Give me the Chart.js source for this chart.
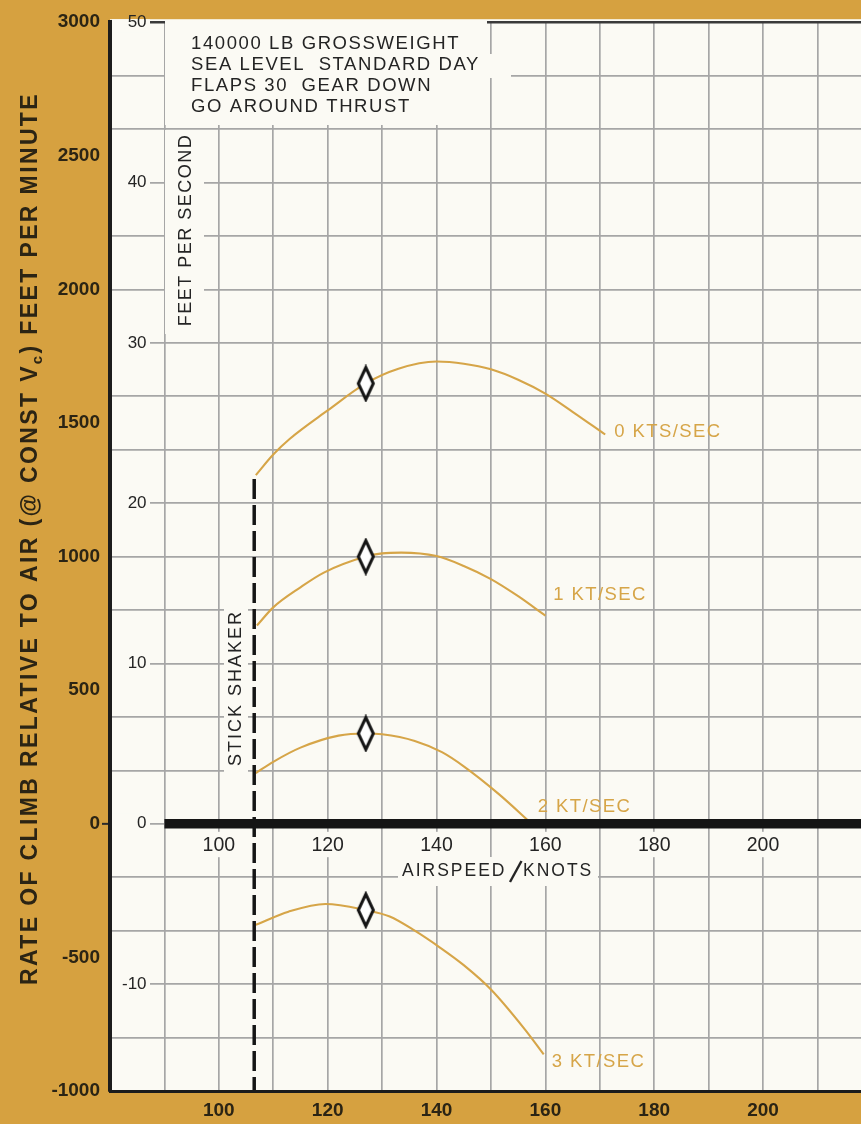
<!DOCTYPE html>
<html>
<head>
<meta charset="utf-8">
<script src="https://cdn.jsdelivr.net/npm/chart.js@4.4.1/dist/chart.umd.min.js"></script>
<style>
html, body { margin: 0; padding: 0; background: #d7a342; }
#wrap { width: 861px; height: 1124px; }
</style>
</head>
<body>
<div id="wrap"><canvas id="climb" width="861" height="1124"></canvas></div>
<script>
// tick labels
const fpmLabels = [3000, 2500, 2000, 1500, 1000, 500, 0, -500, -1000];
const fpsLabels = [50, 40, 30, 20, 10, 0, -10];
const speedLabels = [100, 120, 140, 160, 180, 200];

// rate of climb (ft/min) vs airspeed (kt), one pair per acceleration
const speed0 = [106.8, 110, 113, 120, 127, 133, 140, 145, 150, 155, 160, 165, 171];
const climb0 = [1305, 1382, 1440, 1547, 1648, 1703, 1730, 1722, 1701, 1662, 1610, 1542, 1457];
const speed1 = [107, 110, 115, 119.3, 127, 130, 133.5, 140, 145, 150, 155, 160];
const climb1 = [742, 810, 885, 940, 1000, 1012, 1015, 1002, 965, 916, 852, 779];
const speed2 = [106.8, 110, 115, 122, 127, 130, 136, 141, 145, 151.4, 157.5];
const climb2 = [190, 232, 285, 330, 338, 335, 310, 268, 215, 112, 0];
const speed3 = [106.8, 112.8, 119.6, 127, 131.4, 136, 140.7, 145, 150, 156.3, 159.7];
const climb3 = [-378, -329, -300, -323, -347, -400, -464, -529, -620, -771, -863];
const curveNames = ['0 KTS/SEC', '1 KT/SEC', '2 KT/SEC', '3 KT/SEC'];

// diamonds at 127 kt
const markerSpeed = 127;
const markerClimb = [1648, 1000, 338, -323];

// stick shaker line and zero line
const shakerSpeed = 106.5;
const shakerClimb = [1290, -1000];
const zeroSpeeds = [90, 218];

const noteLines = ['140000 LB GROSSWEIGHT', 'SEA LEVEL  STANDARD DAY', 'FLAPS 30  GEAR DOWN', 'GO AROUND THRUST'];

const gold = '#d6a140';
const paper = '#fbfaf4';
const gridGrey = '#a6a6a6';
const ink = '#242424';
const brown = '#2b2414';
const curveGold = '#d6a548';
const sans = '"Liberation Sans", Arial, sans-serif';

// tall diamond marker
const diamond = document.createElement('canvas');
diamond.width = 20; diamond.height = 38;
(function () {
  const g = diamond.getContext('2d');
  g.beginPath();
  g.moveTo(10, 3); g.lineTo(17.5, 19); g.lineTo(10, 35); g.lineTo(2.5, 19);
  g.closePath();
  g.fillStyle = '#ffffff'; g.fill();
  g.lineWidth = 3; g.strokeStyle = '#141414'; g.stroke();
})();

const pts = (xs, ys) => xs.map((x, i) => ({ x: x, y: ys[i] }));
const curve = (xs, ys) => ({
  data: pts(xs, ys), showLine: true, borderColor: curveGold, borderWidth: 2.1,
  pointRadius: 0, cubicInterpolationMode: 'monotone', fill: false
});

const tickRange = (a, b, step) => { const t = []; for (let v = a; v <= b; v += step) t.push({ value: v }); return t; };

const labelOffsets = [[9, -3], [8, -21], [6, -17], [8, 8]];

const paperPlugin = {
  id: 'paper',
  beforeDraw(chart) {
    const { ctx, chartArea: a } = chart;
    ctx.save();
    ctx.fillStyle = gold;
    ctx.fillRect(0, 0, chart.width, chart.height);
    ctx.fillStyle = paper;
    ctx.fillRect(a.left, a.top - 3, chart.width - a.left, a.bottom - a.top + 3);
    ctx.restore();
  }
};

const textPlugin = {
  id: 'texts',
  beforeDatasetsDraw(chart) {
    const { ctx, chartArea: a, scales } = chart;
    ctx.save();
    ctx.fillStyle = paper;
    ctx.fillRect(165, 21, 322, 104);      // note box
    ctx.fillRect(487, 54, 24, 24);
    ctx.fillRect(165, 130, 39, 204);      // feet per second
    ctx.fillRect(224, 600, 24, 176);      // stick shaker
    ctx.fillRect(398, 857, 200, 29);      // airspeed title
    // clear the grid behind the feet-per-second numbers (drawn later, z 1)
    fpsLabels.forEach(v => {
      const py = scales.yfps.getPixelForValue(v);
      const top = Math.max(py - 10, a.top - 3);
      ctx.fillRect(a.left + 2, top, 38, py + 10 - top);
    });

    ctx.fillStyle = ink;
    ctx.font = '18.5px ' + sans;
    ctx.letterSpacing = '1.6px';
    ctx.textBaseline = 'alphabetic';
    ctx.textAlign = 'left';
    noteLines.forEach((t, i) => ctx.fillText(t, 191, 48.5 + i * 21));

    ctx.font = '18px ' + sans;
    ctx.letterSpacing = '1.5px';
    ctx.textAlign = 'center';
    ctx.textBaseline = 'middle';
    ctx.save(); ctx.translate(186, 230); ctx.rotate(-Math.PI / 2);
    ctx.fillText('FEET PER SECOND', 0, 0); ctx.restore();
    ctx.save(); ctx.translate(236, 688); ctx.rotate(-Math.PI / 2);
    ctx.letterSpacing = '2px';
    ctx.fillText('STICK SHAKER', 0, 0); ctx.restore();

    ctx.textAlign = 'left';
    ctx.textBaseline = 'alphabetic';
    ctx.font = '17.5px ' + sans;
    ctx.letterSpacing = '2px';
    ctx.fillText('AIRSPEED', 402, 876);
    ctx.fillText('KNOTS', 523, 876);
    ctx.beginPath(); ctx.moveTo(510, 882); ctx.lineTo(521.5, 861);
    ctx.lineWidth = 2.4; ctx.strokeStyle = ink; ctx.stroke();

    // y title with subscript c
    ctx.fillStyle = brown;
    ctx.save();
    ctx.translate(37, 985); ctx.rotate(-Math.PI / 2);
    const partA = 'RATE OF CLIMB RELATIVE TO AIR (@ CONST V';
    const partB = ') FEET PER MINUTE';
    const bigFont = 'bold 23px ' + sans, subFont = 'bold 15px ' + sans;
    ctx.letterSpacing = '0px';
    ctx.font = bigFont;
    const natural = ctx.measureText(partA + partB).width;
    ctx.font = subFont; const subW = ctx.measureText('c').width;
    const sp = (893 - natural - subW) / (partA.length + partB.length + 1);
    ctx.letterSpacing = sp + 'px';
    ctx.font = bigFont;
    ctx.fillText(partA, 0, 0);
    let x = ctx.measureText(partA).width;
    ctx.font = subFont;
    ctx.fillText('c', x, 5);
    x += ctx.measureText('c').width;
    ctx.font = bigFont;
    ctx.fillText(partB, x, 0);
    ctx.restore();
    ctx.restore();
  },
  afterDatasetsDraw(chart) {
    const { ctx, scales } = chart;
    const ends = [[speed0, climb0], [speed1, climb1], [speed2, climb2], [speed3, climb3]];
    ctx.save();
    ctx.fillStyle = curveGold;
    ctx.font = '18.5px ' + sans;
    ctx.letterSpacing = '1.4px';
    ctx.textBaseline = 'middle';
    ctx.textAlign = 'left';
    ends.forEach(([xs, ys], i) => {
      const px = scales.x.getPixelForValue(xs[xs.length - 1]);
      const py = scales.y.getPixelForValue(ys[ys.length - 1]);
      ctx.fillText(curveNames[i], px + labelOffsets[i][0], py + labelOffsets[i][1]);
    });
    ctx.restore();
  }
};

new Chart(document.getElementById('climb'), {
  type: 'scatter',
  data: {
    datasets: [
      { data: markerClimb.map(y => ({ x: markerSpeed, y: y })), pointStyle: diamond, pointRadius: 10, showLine: false },
      { data: zeroSpeeds.map(x => ({ x: x, y: 0 })), showLine: true, borderColor: '#151515', borderWidth: 9.5, pointRadius: 0, borderCapStyle: 'butt' },
      { data: shakerClimb.map(y => ({ x: shakerSpeed, y: y })), showLine: true, borderColor: '#151515', borderWidth: 3.5, borderDash: [20, 6], pointRadius: 0 },
      curve(speed0, climb0),
      curve(speed1, climb1),
      curve(speed2, climb2),
      curve(speed3, climb3)
    ]
  },
  options: {
    responsive: false,
    devicePixelRatio: 1,
    animation: false,
    layout: { autoPadding: false, padding: { top: 20, left: 0, right: 0, bottom: 0 } },
    plugins: { legend: { display: false }, tooltip: { enabled: false } },
    scales: {
      x: {
        type: 'linear', position: 'bottom', min: 80, max: 218,
        afterBuildTicks: s => { s.ticks = tickRange(80, 210, 10); },
        afterFit: s => { s.height = 33; },
        grid: {
          color: c => c.tick && c.tick.value === 80 ? 'rgba(0,0,0,0)' : gridGrey,
          lineWidth: 1.7, drawTicks: false
        },
        border: { color: '#1c1c1c', width: 3, z: 1 },
        ticks: {
          autoSkip: false, maxRotation: 0, padding: 8, color: brown,
          font: { family: sans, size: 19, weight: 'bold' },
          callback: v => speedLabels.includes(v) ? String(v) : ''
        }
      },
      x2: {
        type: 'linear', axis: 'x', position: { y: 0 }, min: 80, max: 218,
        afterBuildTicks: s => { s.ticks = speedLabels.map(v => ({ value: v })); },
        grid: { display: false, drawTicks: false },
        border: { display: false },
        ticks: {
          autoSkip: false, maxRotation: 0, padding: 10, color: ink,
          font: { family: sans, size: 19.5 },
          showLabelBackdrop: true, backdropColor: paper, backdropPadding: { left: 3, right: 3, top: 2, bottom: 0 }
        }
      },
      y: {
        type: 'linear', position: 'left', min: -1000, max: 3000, weight: 10,
        afterBuildTicks: s => { s.ticks = tickRange(-1000, 3000, 100); },
        afterFit: s => { s.width = 110; },
        grid: {
          color: c => {
            const v = c.tick ? c.tick.value : 1;
            if (v % 200 !== 0) return 'rgba(0,0,0,0)';
            return v === 3000 ? '#3a3a3a' : gridGrey;
          },
          lineWidth: c => c.tick && c.tick.value === 3000 ? 2.6 : 1.7,
          tickLength: 8,
          tickColor: c => c.tick && c.tick.value === 0 ? '#2a2a2a' : 'rgba(0,0,0,0)',
          tickWidth: 2
        },
        border: { color: '#1c1c1c', width: 4, z: 1 },
        ticks: {
          autoSkip: false, padding: 2, color: brown,
          font: { family: sans, size: 19, weight: 'bold' },
          callback: v => fpmLabels.includes(v) ? String(v) : ''
        }
      },
      yfps: {
        type: 'linear', axis: 'y', position: 'left', min: -1000 / 60, max: 50, weight: 0,
        afterBuildTicks: s => { s.ticks = fpsLabels.map(v => ({ value: v })); },
        afterFit: s => { s.width = 0; },
        grid: { display: false, drawTicks: false },
        border: { display: false },
        ticks: {
          autoSkip: false, mirror: true, crossAlign: 'far', padding: 12, color: ink, z: 1,
          font: { family: sans, size: 17 }
        }
      }
    }
  },
  plugins: [paperPlugin, textPlugin]
});
</script>
</body>
</html>
